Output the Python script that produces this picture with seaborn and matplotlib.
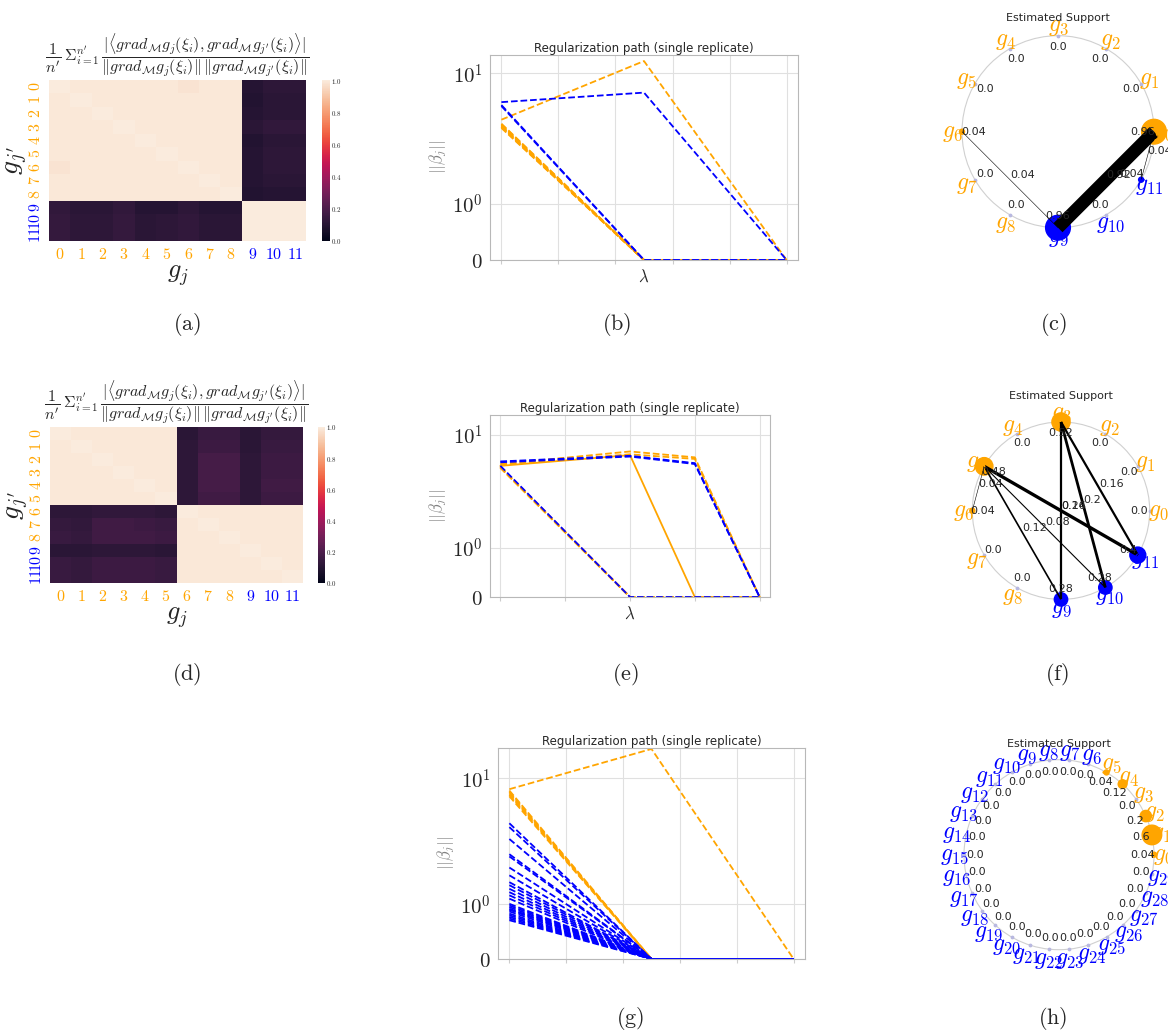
import numpy as np
import pandas as pd
import matplotlib
matplotlib.use("Agg")
import matplotlib.pyplot as plt
import seaborn as sns

sns.set_style("whitegrid")
plt.rcParams['font.family'] = ['DejaVu Sans']
plt.rcParams['mathtext.fontset'] = 'cm'

W, H = 1168, 1033
ORANGE, BLUE = "orange", "blue"

# ---------------- data: heatmaps ----------------
heat_labels = [str(i) for i in range(12)]
heat_colors = [ORANGE] * 9 + [BLUE] * 3

heat_a = [
    [1.00, 0.99, 0.99, 0.99, 0.99, 0.99, 0.98, 0.99, 0.99, 0.10, 0.12, 0.12],
    [0.99, 1.00, 0.99, 0.99, 0.99, 0.99, 0.99, 0.99, 0.99, 0.09, 0.11, 0.11],
    [0.99, 0.99, 1.00, 0.99, 0.99, 0.99, 0.99, 0.99, 0.99, 0.10, 0.11, 0.11],
    [0.99, 0.99, 0.99, 1.00, 0.99, 0.99, 0.99, 0.99, 0.99, 0.11, 0.13, 0.13],
    [0.99, 0.99, 0.99, 0.99, 1.00, 0.99, 0.99, 0.99, 0.99, 0.09, 0.11, 0.11],
    [0.99, 0.99, 0.99, 0.99, 0.99, 1.00, 0.99, 0.99, 0.99, 0.10, 0.12, 0.12],
    [0.98, 0.99, 0.99, 0.99, 0.99, 0.99, 1.00, 0.99, 0.99, 0.10, 0.12, 0.12],
    [0.99, 0.99, 0.99, 0.99, 0.99, 0.99, 0.99, 1.00, 0.99, 0.10, 0.11, 0.11],
    [0.99, 0.99, 0.99, 0.99, 0.99, 0.99, 0.99, 0.99, 1.00, 0.09, 0.10, 0.10],
    [0.13, 0.11, 0.11, 0.13, 0.10, 0.10, 0.12, 0.10, 0.10, 1.00, 1.00, 1.00],
    [0.14, 0.12, 0.12, 0.14, 0.11, 0.12, 0.13, 0.11, 0.11, 1.00, 1.00, 1.00],
    [0.14, 0.12, 0.12, 0.14, 0.11, 0.12, 0.13, 0.11, 0.11, 1.00, 1.00, 1.00],
]

heat_d = [
    [1.00, 0.99, 0.99, 0.99, 0.99, 0.99, 0.11, 0.15, 0.15, 0.11, 0.14, 0.14],
    [0.99, 1.00, 0.99, 0.99, 0.99, 0.99, 0.12, 0.16, 0.16, 0.11, 0.15, 0.15],
    [0.99, 0.99, 1.00, 0.99, 0.99, 0.99, 0.12, 0.18, 0.18, 0.12, 0.16, 0.16],
    [0.99, 0.99, 0.99, 1.00, 0.99, 0.99, 0.12, 0.18, 0.18, 0.12, 0.16, 0.16],
    [0.99, 0.99, 0.99, 0.99, 1.00, 0.99, 0.12, 0.18, 0.18, 0.12, 0.17, 0.17],
    [0.99, 0.99, 0.99, 0.99, 0.99, 1.00, 0.12, 0.17, 0.17, 0.12, 0.16, 0.16],
    [0.12, 0.12, 0.13, 0.13, 0.13, 0.12, 1.00, 0.99, 0.99, 0.99, 0.99, 0.99],
    [0.14, 0.13, 0.17, 0.17, 0.16, 0.15, 0.99, 1.00, 0.99, 0.99, 0.99, 0.99],
    [0.15, 0.14, 0.17, 0.17, 0.17, 0.16, 0.99, 0.99, 1.00, 0.99, 0.99, 0.99],
    [0.11, 0.11, 0.12, 0.12, 0.12, 0.11, 0.99, 0.99, 0.99, 1.00, 0.99, 0.99],
    [0.15, 0.14, 0.16, 0.16, 0.16, 0.15, 0.99, 0.99, 0.99, 0.99, 1.00, 0.99],
    [0.15, 0.14, 0.16, 0.16, 0.16, 0.15, 0.99, 0.99, 0.99, 0.99, 0.99, 1.00],
]

# ---------------- data: regularization paths ----------------
path_b_lambda = [0, 5, 10]
path_b_orange = [
    [4.4, 12.4, 0.0],
    [4.1, 0.0, 0.0], [4.05, 0.0, 0.0], [4.0, 0.0, 0.0], [3.95, 0.0, 0.0],
    [3.9, 0.0, 0.0], [3.9, 0.0, 0.0], [3.85, 0.0, 0.0], [3.8, 0.0, 0.0],
]
path_b_blue = [
    [6.0, 7.1, 0.0],
    [5.7, 0.0, 0.0],
    [5.6, 0.0, 0.0],
]

path_e_lambda = [0, 2, 3, 4]
path_e_orange = [
    [5.5, 7.1, 6.3, 0.0],
    [5.4, 6.7, 6.1, 0.0],
    [5.2, 0.0, 0.0, 0.0], [5.2, 0.0, 0.0, 0.0], [5.15, 0.0, 0.0, 0.0],
    [5.15, 0.0, 0.0, 0.0], [5.1, 0.0, 0.0, 0.0], [5.1, 0.0, 0.0, 0.0],
]
path_e_orange_drop = [5.3, 6.6, 0.0, 0.0]
path_e_blue = [
    [5.8, 6.5, 5.6, 0.0],
    [5.7, 6.4, 5.5, 0.0],
    [5.3, 0.0, 0.0, 0.0],
]

path_g_lambda = [0, 5, 10]
path_g_orange = [
    [8.2, 17.1, 0.0],
    [8.0, 0.0, 0.0], [7.8, 0.0, 0.0], [7.6, 0.0, 0.0], [7.4, 0.0, 0.0], [7.2, 0.0, 0.0],
]
path_g_blue = [
    [4.4, 0, 0], [4.1, 0, 0], [3.3, 0, 0], [2.5, 0, 0], [2.4, 0, 0], [1.96, 0, 0],
    [1.7, 0, 0], [1.5, 0, 0], [1.42, 0, 0], [1.33, 0, 0], [1.25, 0, 0], [1.18, 0, 0],
    [1.11, 0, 0], [1.01, 0, 0], [0.98, 0, 0], [0.95, 0, 0], [0.92, 0, 0], [0.90, 0, 0],
    [0.87, 0, 0], [0.83, 0, 0], [0.80, 0, 0], [0.77, 0, 0], [0.74, 0, 0], [0.71, 0, 0],
]

# ---------------- data: estimated support ----------------
support_c_colors = [ORANGE] * 9 + [BLUE] * 3
support_c_values = [0.96, 0.0, 0.0, 0.0, 0.0, 0.0, 0.04, 0.0, 0.0, 0.96, 0.0, 0.04]
support_c_edges = [(0, 9), (0, 11), (6, 9)]
support_c_weights = [0.92, 0.04, 0.04]

support_f_colors = [ORANGE] * 9 + [BLUE] * 3
support_f_values = [0.0, 0.0, 0.0, 0.52, 0.0, 0.48, 0.04, 0.0, 0.0, 0.28, 0.28, 0.4]
support_f_edges = [(3, 9), (3, 10), (3, 11), (5, 11), (5, 9), (5, 10), (5, 6)]
support_f_weights = [0.16, 0.2, 0.16, 0.24, 0.12, 0.08, 0.04]

support_h_colors = [ORANGE] * 6 + [BLUE] * 24
support_h_values = [0.04, 0.6, 0.2, 0.0, 0.12, 0.04] + [0.0] * 24
support_h_edges = []
support_h_weights = []

captions = ["(a)", "(b)", "(c)", "(d)", "(e)", "(f)", "(g)", "(h)"]
caption_pos = [(187, 325), (617, 325), (1053, 325), (187, 675), (625, 675),
               (1057, 675), (630, 1018), (1053, 1018)]

# ---------------- figure ----------------
fig = plt.figure(figsize=(W / 100, H / 100), dpi=100)


def px_axes(left, top, right, bottom):
    return fig.add_axes([left / W, 1 - bottom / H, (right - left) / W, (bottom - top) / H])


HEAT_TITLE = (r'$\dfrac{1}{n^\prime}\,\Sigma_{i=1}^{n^\prime}\,'
              r'\dfrac{|\langle grad_{\mathcal{M}}g_j(\xi_i), grad_{\mathcal{M}}g_{j^\prime}(\xi_i)\rangle|}'
              r'{\Vert grad_{\mathcal{M}}g_j(\xi_i)\Vert\, \Vert grad_{\mathcal{M}}g_{j^\prime}(\xi_i)\Vert}$')


def draw_heat(mat, box, cbox):
    ax = px_axes(*box)
    cax = px_axes(*cbox)
    df = pd.DataFrame(mat, index=heat_labels, columns=heat_labels)
    sns.heatmap(df, ax=ax, cbar_ax=cax, vmin=0, vmax=1, cmap="rocket",
                xticklabels=True, yticklabels=True)
    ax.set_xticklabels([f'${l}$' for l in heat_labels], fontsize=11.5, rotation=0)
    ax.set_yticklabels([f'${l}$' for l in heat_labels], fontsize=11.5, rotation=90, va='center')
    for t, c in zip(ax.get_xticklabels(), heat_colors):
        t.set_color(c)
    for t, c in zip(ax.get_yticklabels(), heat_colors):
        t.set_color(c)
    ax.tick_params(length=2, pad=2)
    ax.set_xlabel(r'$g_j$', fontsize=19, labelpad=0)
    ax.set_ylabel(r"$g_{j'}$", fontsize=20, labelpad=-1)
    ax.set_title(HEAT_TITLE, fontsize=11.5, pad=1, va='bottom')
    cax.set_yticks([0, 0.2, 0.4, 0.6, 0.8, 1.0])
    cax.set_yticklabels([f'${v:.1f}$' for v in [0, 0.2, 0.4, 0.6, 0.8, 1.0]], fontsize=5)
    cax.tick_params(length=0, pad=1)
    return ax


def draw_path(box, lam, orange, blue, ylim_top, xticks, drop=None, xlabel=True):
    ax = px_axes(*box)
    ax.set_yscale('symlog', linthresh=1, linscale=0.39)
    for ys in orange:
        sns.lineplot(x=lam, y=ys, color=ORANGE, linestyle='--', lw=1.3, ax=ax)
    if drop is not None:
        sns.lineplot(x=lam, y=drop, color=ORANGE, linestyle='-', lw=1.3, ax=ax)
    for ys in blue:
        sns.lineplot(x=lam, y=ys, color=BLUE, linestyle='--', lw=1.3, ax=ax)
    span = lam[-1] - lam[0]
    ax.set_xlim(lam[0] - 0.04 * span, lam[-1] + 0.04 * span)
    ax.set_ylim(0, ylim_top)
    ax.set_yticks([0, 1, 10])
    ax.set_yticklabels([r'$0$', r'$10^{0}$', r'$10^{1}$'], fontsize=15)
    ax.set_xticks(xticks)
    ax.set_xticklabels([''] * len(xticks))
    ax.tick_params(axis='x', bottom=True, length=3, color='.8')
    ax.tick_params(axis='y', pad=2)
    ax.grid(True, color='.88', lw=0.8)
    for s in ax.spines.values():
        s.set_color('.72')
    ax.set_title('Regularization path (single replicate)', fontsize=8.5, pad=2)
    ax.set_ylabel(r'$||\beta_j||$', fontsize=12, color='gray', labelpad=2)
    ax.set_xlabel(r'$\lambda$' if xlabel else '', fontsize=12, labelpad=-1)
    return ax


def draw_support(box, colors, values, edges, weights, title_y):
    ax = px_axes(*box)
    ax.set_xlim(-1.35, 1.35)
    ax.set_ylim(-1.35, 1.35)
    ax.axis('off')
    n = len(values)
    ang = 2 * np.pi * np.arange(n) / n
    px, py = np.cos(ang), np.sin(ang)
    ax.add_patch(plt.Circle((0, 0), 1, fill=False, color='#d0d0d0', lw=0.8))
    vals = np.array(values)
    zero = vals == 0
    ax.scatter(px[zero], py[zero], s=3, color='#b8b8e0', zorder=2, clip_on=False)
    ax.scatter(px[~zero], py[~zero], s=330 * vals[~zero],
               color=[colors[i] for i in range(n) if not zero[i]], zorder=3, clip_on=False)
    for (i, j), w in zip(edges, weights):
        ax.plot([px[i], px[j]], [py[i], py[j]], color='black', lw=10 * w, zorder=4,
                solid_capstyle='butt')
    for (i, j), w in zip(edges, weights):
        ax.text((px[i] + px[j]) / 2, (py[i] + py[j]) / 2, str(w), fontsize=8,
                ha='left', va='bottom', zorder=6)
    for k in range(n):
        ax.text(0.88 * px[k], 0.88 * py[k], str(values[k]), fontsize=8,
                ha='center', va='center', zorder=6, clip_on=False)
        ax.text(1.1 * px[k], 1.1 * py[k], f'$g_{{{k}}}$', fontsize=17, color=colors[k],
                ha='center', va='center', zorder=5, clip_on=False)
    ax.text(0, title_y, 'Estimated Support', fontsize=8, ha='center', va='center', zorder=7)
    return ax


# Row 1
draw_heat(heat_a, (49, 80, 306, 241), (322, 80, 330, 241))
draw_path((490, 55, 798, 260), path_b_lambda, path_b_orange, path_b_blue, 13.8,
          [0, 2, 4, 6, 8, 10])
c = (1058, 131.7); r = 96
draw_support((c[0] - 1.35 * r, c[1] - 1.35 * r, c[0] + 1.35 * r, c[1] + 1.35 * r),
             support_c_colors, support_c_values, support_c_edges, support_c_weights, 1.18)

# Row 2
draw_heat(heat_d, (50, 427, 303, 583), (318, 427, 325, 583))
draw_path((490, 415, 770, 597), path_e_lambda, path_e_orange, path_e_blue, 14.9,
          [0, 1, 2, 3, 4], drop=path_e_orange_drop)
c = (1061, 510.7); r = 88.7
draw_support((c[0] - 1.35 * r, c[1] - 1.35 * r, c[0] + 1.35 * r, c[1] + 1.35 * r),
             support_f_colors, support_f_values, support_f_edges, support_f_weights, 1.29)

# Row 3
draw_path((498, 748, 805, 959), path_g_lambda, path_g_orange, path_g_blue, 17.4,
          [0, 2, 4, 6, 8, 10], xlabel=False)
c = (1059, 854.7); r = 95
draw_support((c[0] - 1.35 * r, c[1] - 1.35 * r, c[0] + 1.35 * r, c[1] + 1.35 * r),
             support_h_colors, support_h_values, support_h_edges, support_h_weights, 1.17)

for cap, (x, y) in zip(captions, caption_pos):
    fig.text(x / W, 1 - y / H, r'$\mathrm{' + cap + '}$', fontsize=16,
             ha='center', va='center')

fig.savefig('out.png', dpi=100)
